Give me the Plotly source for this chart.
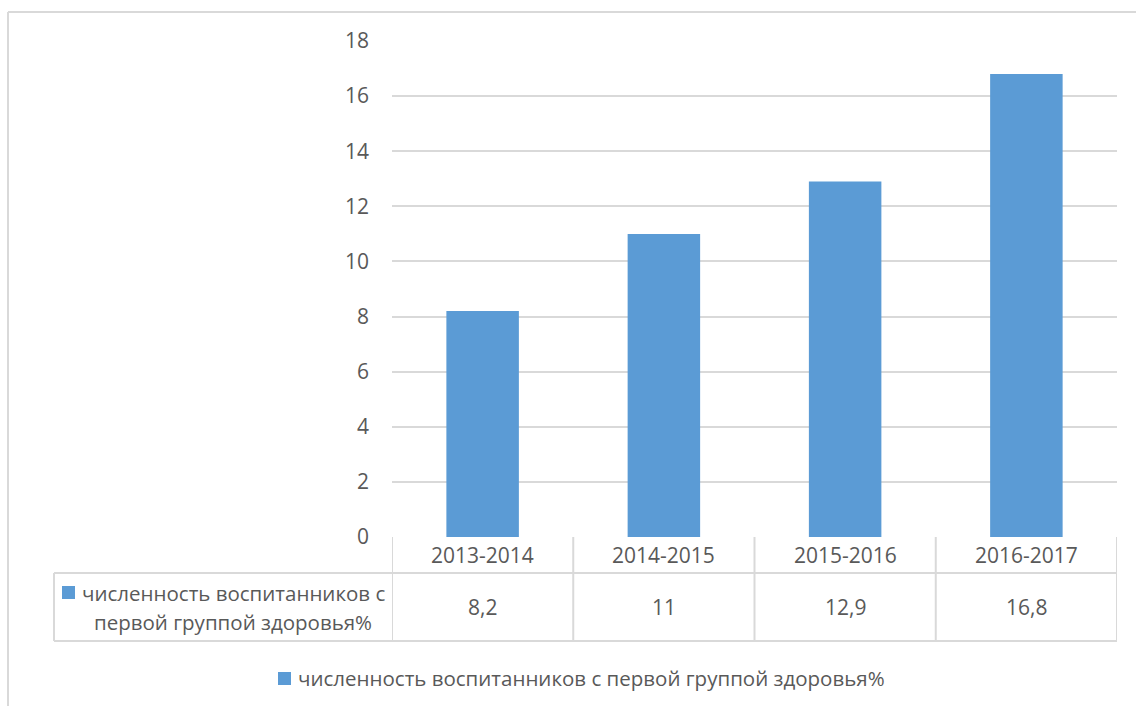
import plotly.graph_objects as go

# Academic years and share of pupils with the first health group, %
years = ["2013-2014", "2014-2015", "2015-2016", "2016-2017"]
share_first_group = [8.2, 11, 12.9, 16.8]
series_name = "численность воспитанников с первой группой здоровья%"
header_lines = ["численность воспитанников с", "первой группой здоровья%"]
y_ticks = [0, 2, 4, 6, 8, 10, 12, 14, 16, 18]

BAR = "#5b9bd5"
GRID = "#d9d9d9"
TEXT = "#595959"
FONT = "Open Sans"
FS = 21
FS_LEG = 20.5

W, H = 1136, 706
L, R, T, B = 392, 19, 41, 169
PW, PH = W - L - R, H - T - B


def px_x(px):
    return (px - L) / PW


def px_y(py):
    return (H - B - py) / PH


def fmt(v):
    return f"{v:g}".replace(".", ",")


fig = go.Figure(
    go.Bar(
        x=list(range(len(years))),
        y=share_first_group,
        name=series_name,
        marker=dict(color=BAR, line=dict(width=0)),
        width=0.4,
        showlegend=False,
    )
)

shapes = []
annotations = []

row1_bottom = px_y(573)
row2_bottom = px_y(641)
n = len(years)

# Data table: horizontal rules
shapes.append(dict(type="line", xref="paper", yref="paper", x0=px_x(54), x1=1,
                   y0=row1_bottom, y1=row1_bottom, line=dict(color=GRID, width=2)))
shapes.append(dict(type="line", xref="paper", yref="paper", x0=px_x(54), x1=1,
                   y0=row2_bottom, y1=row2_bottom, line=dict(color=GRID, width=2)))
# Left edge of header cell
shapes.append(dict(type="line", xref="paper", yref="paper", x0=px_x(54), x1=px_x(54),
                   y0=row1_bottom, y1=row2_bottom, line=dict(color=GRID, width=2)))
# Vertical separators between categories
for i in range(n + 1):
    shapes.append(dict(type="line", xref="x", yref="paper", x0=i - 0.5, x1=i - 0.5,
                       y0=0, y1=row2_bottom, line=dict(color=GRID, width=2)))

# Category labels and values in the table
for i, (yr, v) in enumerate(zip(years, share_first_group)):
    annotations.append(dict(x=i, y=px_y(555), xref="x", yref="paper", text=yr,
                            showarrow=False, xanchor="center", yanchor="middle",
                            font=dict(family=FONT, size=FS, color=TEXT)))
    annotations.append(dict(x=i, y=px_y(607), xref="x", yref="paper", text=fmt(v),
                            showarrow=False, xanchor="center", yanchor="middle",
                            font=dict(family=FONT, size=FS, color=TEXT)))

# Series key in the header cell
shapes.append(dict(type="rect", xref="paper", yref="paper",
                   x0=px_x(62), x1=px_x(75), y0=px_y(586), y1=px_y(599),
                   fillcolor=BAR, line=dict(width=0)))
annotations.append(dict(x=px_x(80), y=px_y(593), xref="paper", yref="paper",
                        text=header_lines[0], showarrow=False,
                        xanchor="left", yanchor="middle",
                        font=dict(family=FONT, size=FS_LEG, color=TEXT)))
annotations.append(dict(x=px_x(233), y=px_y(622), xref="paper", yref="paper",
                        text=header_lines[1], showarrow=False,
                        xanchor="center", yanchor="middle",
                        font=dict(family=FONT, size=FS_LEG, color=TEXT)))

# Legend below the table
shapes.append(dict(type="rect", xref="paper", yref="paper",
                   x0=px_x(278), x1=px_x(291), y0=px_y(672), y1=px_y(685),
                   fillcolor=BAR, line=dict(width=0)))
annotations.append(dict(x=px_x(296), y=px_y(678), xref="paper", yref="paper",
                        text=series_name, showarrow=False,
                        xanchor="left", yanchor="middle",
                        font=dict(family=FONT, size=FS_LEG, color=TEXT)))

# Outer chart frame
shapes.append(dict(type="line", xref="paper", yref="paper", x0=px_x(8), x1=px_x(W + 5),
                   y0=px_y(12), y1=px_y(12), line=dict(color=GRID, width=2)))
shapes.append(dict(type="line", xref="paper", yref="paper", x0=px_x(8), x1=px_x(8),
                   y0=px_y(12), y1=px_y(H + 5), line=dict(color=GRID, width=2)))

fig.update_layout(
    width=W,
    height=H,
    margin=dict(l=L, r=R, t=T, b=B),
    paper_bgcolor="white",
    plot_bgcolor="white",
    showlegend=False,
    xaxis=dict(range=[-0.5, n - 0.5], showticklabels=False, showgrid=False,
               zeroline=False, showline=False, ticks=""),
    yaxis=dict(range=[0, 18], tickvals=y_ticks, showgrid=True, gridcolor=GRID,
               gridwidth=1.5, zeroline=False, showline=False, ticks="",
               ticklabelstandoff=22,
               tickfont=dict(family=FONT, size=FS, color=TEXT)),
    shapes=shapes,
    annotations=annotations,
)

fig.write_html("out.html")
